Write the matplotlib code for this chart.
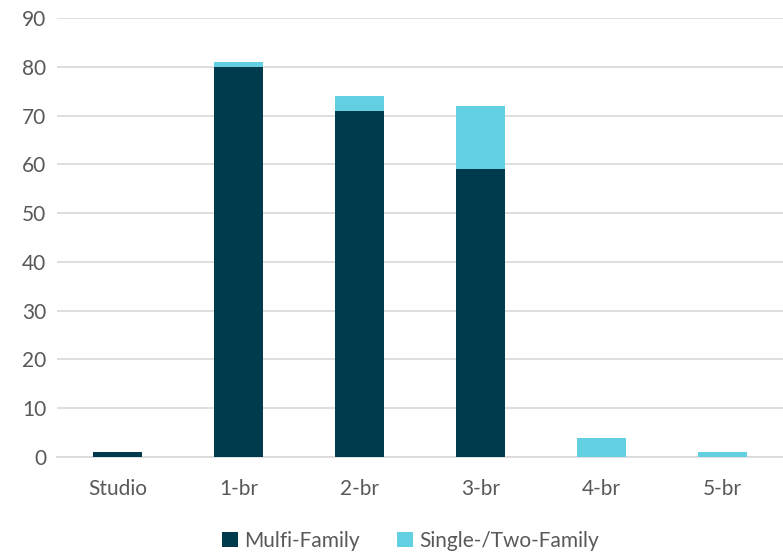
import numpy as np
import matplotlib.pyplot as plt

plt.rcParams['font.family'] = ['Lato', 'DejaVu Sans']

categories = ['Studio', '1-br', '2-br', '3-br', '4-br', '5-br']
multi = [1, 80, 71, 59, 0, 0]
single = [0, 1, 3, 13, 4, 1]

dark = '#003A4D'
light = '#63D0E2'
grey = '#595959'

fig = plt.figure(figsize=(7.83, 5.54), dpi=100)
ax = fig.add_axes([0.073, 0.175, 0.927, 0.7925])

x = np.arange(len(categories))
ax.bar(x, multi, width=0.41, color=dark, label='Mulfi-Family', zorder=3)
ax.bar(x, single, width=0.41, bottom=multi, color=light, label='Single-/Two-Family', zorder=3)

ax.set_xlim(-0.5, len(categories) - 0.5)
ax.set_ylim(0, 90)
ax.set_yticks(range(0, 91, 10))
ax.set_xticks(x)
ax.set_xticklabels(categories)
ax.yaxis.grid(True, color='#D9D9D9', linewidth=1.2, zorder=0)
ax.tick_params(axis='both', length=0, labelsize=15, colors=grey)
ax.tick_params(axis='x', pad=16)
ax.tick_params(axis='y', pad=8)
for s in ['top', 'right', 'left']:
    ax.spines[s].set_visible(False)
ax.spines['bottom'].set_color('#D9D9D9')
ax.spines['bottom'].set_linewidth(1.2)

ax.legend(loc='upper center', bbox_to_anchor=(0.487, -0.125), ncol=2, frameon=False,
          fontsize=15, labelcolor=grey, handlelength=0.75, handleheight=0.75,
          handletextpad=0.3, columnspacing=1.8)

fig.savefig('out.png', dpi=100)
